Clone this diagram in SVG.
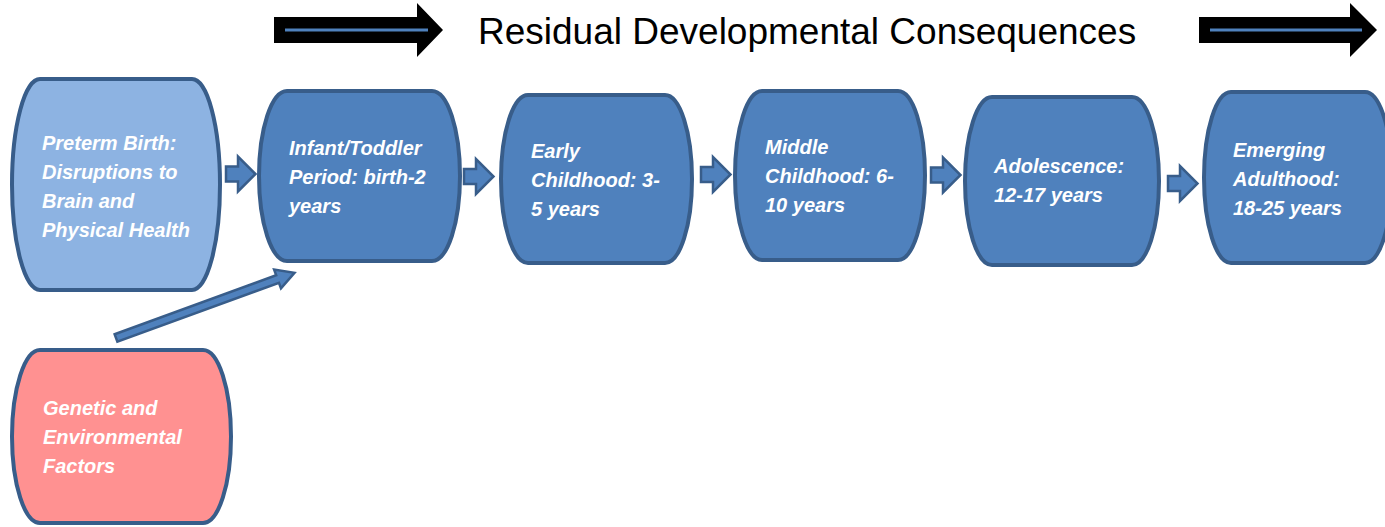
<svg xmlns="http://www.w3.org/2000/svg" width="1385" height="527" viewBox="0 0 1385 527">
  <defs>
    <style>
      .stage { fill: #4f81bd; stroke: #385d8a; stroke-width: 4; }
      .stage.birth { fill: #8db3e2; }
      .stage.factors { fill: #ff9191; }
      .label { font-family: "Liberation Sans", Arial, sans-serif; font-size: 20px; font-weight: bold; font-style: italic; fill: #ffffff; }
      .title { font-family: "Liberation Sans", Arial, sans-serif; font-size: 37px; fill: #000000; }
      .step { fill: #4f81bd; stroke: #385d8a; stroke-width: 2.5; stroke-linejoin: miter; }
      .timeline { fill: #000000; }
      .timeline-core { stroke: #4f81bd; stroke-width: 3; }
    </style>
    <!-- small block arrow between stages, origin at the tail centre -->
    <path id="step-arrow" class="step" d="M1,-7.5 H13 V-17.5 L30.5,0 L13,17.5 V7.5 H1 Z"/>
  </defs>

  <!-- timeline banner -->
  <g id="banner">
    <polygon class="timeline" points="274,17 417,17 417,3 443,30 417,57 417,43 274,43"/>
    <line class="timeline-core" x1="285" y1="30" x2="428" y2="30"/>
    <text class="title" x="478" y="44">Residual Developmental Consequences</text>
    <polygon class="timeline" points="1199,17 1350,17 1350,3 1377,30 1350,57 1350,43 1199,43"/>
    <line class="timeline-core" x1="1210" y1="30" x2="1362" y2="30"/>
  </g>

  <!-- connectors -->
  <g id="connectors">
    <use href="#step-arrow" x="225" y="174"/>
    <use href="#step-arrow" x="463" y="176.5"/>
    <use href="#step-arrow" x="700" y="174.5"/>
    <use href="#step-arrow" x="930" y="175"/>
    <use href="#step-arrow" x="1167" y="183.5"/>
    <!-- influence of genetic / environmental factors on infancy -->
    <path class="step" transform="translate(116,338) rotate(-20.06)" d="M0,-4 H172 V-10 L190,0 L172,10 V4 H0 Z"/>
  </g>

  <g id="preterm-birth">
    <rect class="stage birth" x="12" y="79" width="208" height="211" rx="28" ry="105.5"/>
    <text class="label"><tspan x="42" y="150">Preterm Birth:</tspan><tspan x="42" y="179">Disruptions to</tspan><tspan x="42" y="208">Brain and</tspan><tspan x="42" y="237">Physical Health</tspan></text>
  </g>

  <g id="infant-toddler">
    <rect class="stage" x="259" y="91" width="201" height="170" rx="28" ry="85"/>
    <text class="label"><tspan x="289" y="155">Infant/Toddler</tspan><tspan x="289" y="184">Period: birth-2</tspan><tspan x="289" y="213">years</tspan></text>
  </g>

  <g id="early-childhood">
    <rect class="stage" x="501" y="95" width="191" height="168" rx="27" ry="84"/>
    <text class="label"><tspan x="531" y="158">Early</tspan><tspan x="531" y="187">Childhood: 3-</tspan><tspan x="531" y="216">5 years</tspan></text>
  </g>

  <g id="middle-childhood">
    <rect class="stage" x="735" y="91" width="190" height="169" rx="27" ry="84.5"/>
    <text class="label"><tspan x="765" y="154">Middle</tspan><tspan x="765" y="183">Childhood: 6-</tspan><tspan x="765" y="212">10 years</tspan></text>
  </g>

  <g id="adolescence">
    <rect class="stage" x="965" y="97" width="194" height="168" rx="27" ry="84"/>
    <text class="label"><tspan x="994" y="173">Adolescence:</tspan><tspan x="994" y="202">12-17 years</tspan></text>
  </g>

  <g id="emerging-adulthood">
    <rect class="stage" x="1204" y="92" width="188" height="171" rx="27" ry="85.5"/>
    <text class="label"><tspan x="1233" y="157">Emerging</tspan><tspan x="1233" y="186">Adulthood:</tspan><tspan x="1233" y="215">18-25 years</tspan></text>
  </g>

  <g id="genetic-environmental">
    <rect class="stage factors" x="12" y="350" width="219" height="173" rx="28" ry="86.5"/>
    <text class="label"><tspan x="43" y="415">Genetic and</tspan><tspan x="43" y="444">Environmental</tspan><tspan x="43" y="473">Factors</tspan></text>
  </g>
</svg>
